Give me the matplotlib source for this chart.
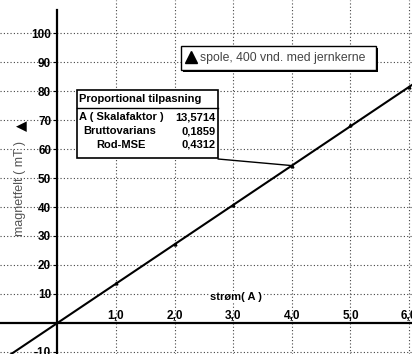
import matplotlib
matplotlib.use("Agg")
import matplotlib.pyplot as plt
from matplotlib.patches import Rectangle
from matplotlib.lines import Line2D
import numpy as np

# ---- data ----
x_data = [1.0, 2.0, 3.0, 4.0, 5.0, 6.0]
y_data = [13.8, 27.2, 40.6, 54.3, 68.3, 81.4]
scale_A = 13.5714
brutto = "0,1859"
rod_mse = "0,4312"
x_ticks = [1, 2, 3, 4, 5, 6]
x_ticklabels = ["1,0", "2,0", "3,0", "4,0", "5,0", "6,0"]
y_ticks = [-10, 10, 20, 30, 40, 50, 60, 70, 80, 90, 100]
series_label = "spole, 400 vnd. med jernkerne"
x_label = "strøm( A )"
y_label = "magnetfelt ( mT )"

W, H = 412, 354
fig = plt.figure(figsize=(W / 100, H / 100), dpi=100)
ax = fig.add_axes([0, 0, 1, 1])
ax.set_xlim(-0.98, 6.05)
ax.set_ylim(-10.7, 111.4)

def fx(px):
    return px / W

def fy(py):
    return 1 - py / H

FONT = ["Liberation Sans", "DejaVu Sans"]

# grid
for xv in x_ticks:
    ax.axvline(xv, color="#444444", lw=0.8, ls=(0, (1, 2)), zorder=1)
for yv in y_ticks:
    ax.axhline(yv, color="#444444", lw=0.8, ls=(0, (1, 2)), zorder=1)

# spines
for s in ["top", "right"]:
    ax.spines[s].set_visible(False)
ax.spines["left"].set_position(("data", 0))
ax.spines["bottom"].set_position(("data", 0))
ax.spines["left"].set_bounds(-10.7, 108)
ax.spines["left"].set_linewidth(1.6)
ax.spines["bottom"].set_linewidth(1.6)
ax.set_facecolor("white")

ax.set_xticks(x_ticks)
ax.set_xticklabels(x_ticklabels)
ax.set_yticks(y_ticks)
ax.set_yticklabels([str(v) for v in y_ticks])
ax.tick_params(axis="x", length=0, pad=-9, labelsize=8.5)
ax.tick_params(axis="y", length=3, width=0.8, pad=1.5, labelsize=8.5)
for lab in ax.get_xticklabels() + ax.get_yticklabels():
    lab.set_fontfamily(FONT)
    lab.set_fontweight("bold")

# fit line
xf = np.array([-0.98, 6.05])
ax.plot(xf, scale_A * xf, color="black", lw=1.5, zorder=3)
# data points
ax.plot(x_data, y_data, ls="none", marker="^", ms=2, color="black", zorder=4)

# axis labels
ax.text(fx(210), fy(297), x_label, fontsize=8, fontweight="bold", family=FONT,
        transform=fig.transFigure, va="center", ha="left",
        bbox=dict(facecolor="white", edgecolor="none", pad=0.5), zorder=5)
fig.text(fx(20), fy(188), y_label, rotation=90, fontsize=9, color="#555555",
         family=FONT, ha="center", va="center")
fig.text(fx(21), fy(126), "\u25B2", rotation=90, fontsize=10, color="black",
         family=["DejaVu Sans"], ha="center", va="center")

# legend box
fig.add_artist(Rectangle((fx(183), fy(72)), (376 - 181) / W, (70 - 46) / H,
                         transform=fig.transFigure, facecolor="black",
                         edgecolor="none", zorder=6))
fig.add_artist(Rectangle((fx(181), fy(70)), (376 - 181) / W, (70 - 46) / H,
                         transform=fig.transFigure, facecolor="white",
                         edgecolor="black", lw=1.0, zorder=7))
fig.add_artist(Line2D([fx(191)], [fy(57)], marker="^", ms=8, color="black",
                      ls="none", transform=fig.transFigure, zorder=8))
fig.text(fx(200), fy(58), series_label, fontsize=8.8, color="#444444",
         family=FONT, ha="left", va="center", zorder=8)

# stats table
fig.add_artist(Rectangle((fx(77), fy(158)), (218 - 77) / W, (158 - 90) / H,
                         transform=fig.transFigure, facecolor="white",
                         edgecolor="black", lw=1.2, zorder=6))
fig.add_artist(Line2D([fx(77), fx(218)], [fy(108), fy(108)], color="black",
                      lw=1.0, transform=fig.transFigure, zorder=7))
tk = dict(fontsize=8, fontweight="bold", family=FONT, va="center", zorder=8)
fig.text(fx(79), fy(99), "Proportional tilpasning", ha="left", **tk)
fig.text(fx(79), fy(117), "A ( Skalafaktor )", ha="left", **tk)
fig.text(fx(120), fy(131), "Bruttovarians", ha="center", **tk)
fig.text(fx(121), fy(145), "Rod-MSE", ha="center", **tk)
fig.text(fx(216), fy(117), f"{scale_A:.4f}".replace(".", ","), ha="right", **tk)
fig.text(fx(216), fy(131), brutto, ha="right", **tk)
fig.text(fx(216), fy(145), rod_mse, ha="right", **tk)

# connector from table to fit line at x=4
ax.annotate("", xy=(4, scale_A * 4), xycoords="data",
            xytext=(fx(218), fy(159)), textcoords="figure fraction",
            arrowprops=dict(arrowstyle="-", lw=1.0, color="black",
                            shrinkA=0, shrinkB=0), zorder=5)

fig.savefig("out.png", dpi=100)
